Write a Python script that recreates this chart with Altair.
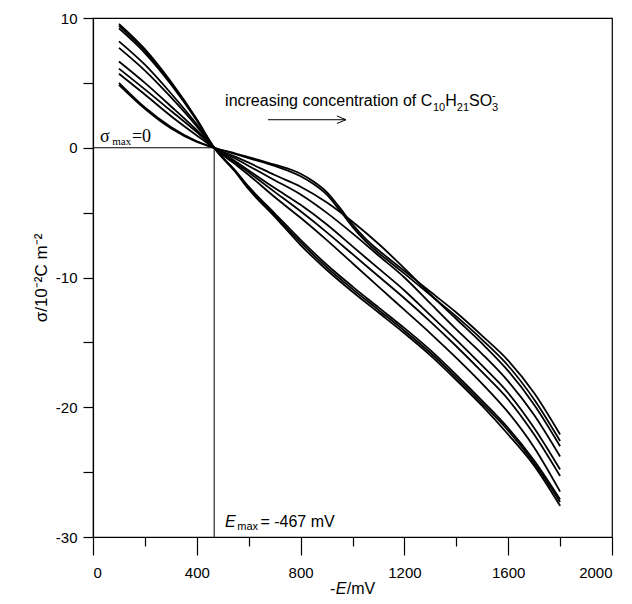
import altair as alt
import pandas as pd

E_left = [100, 200, 300, 400]
E_right = [467, 550, 600, 700, 800, 900, 1000, 1100, 1200, 1300, 1400, 1500, 1600, 1700, 1800]
E_hump = [467, 550, 600, 700, 800, 850, 900, 950, 1000, 1050, 1100, 1150, 1200, 1300, 1400, 1500, 1600, 1700, 1800]

left_vals = [
    [9.55, 7.6, 5.1, 2.2],
    [9.4, 7.45, 5.0, 2.15],
    [9.2, 7.3, 4.9, 2.1],
    [8.2, 6.4, 4.2, 1.8],
    [7.7, 5.95, 3.9, 1.65],
    [6.65, 5.0, 3.2, 1.35],
    [6.1, 4.5, 2.85, 1.2],
    [5.7, 4.1, 2.45, 0.95],
    [5.0, 3.1, 1.6, 0.5],
    [4.85, 3.0, 1.5, 0.45],
]

right_vals = [
    [0, -1.9, -3.2, -5.3, -7.5, -9.4, -11.1, -12.7, -14.3, -16.0, -17.9, -19.9, -22.1, -24.5, -27.6],
    [0, -1.85, -3.1, -5.2, -7.3, -9.2, -10.9, -12.5, -14.1, -15.8, -17.7, -19.7, -21.8, -24.3, -27.3],
    [0, -1.8, -3.0, -5.05, -7.1, -9.0, -10.7, -12.3, -13.9, -15.6, -17.5, -19.5, -21.6, -24.1, -27.1],
    [0, -1.3, -2.1, -3.8, -5.4, -7.1, -8.9, -10.7, -12.5, -14.3, -16.2, -18.2, -20.4, -23.1, -26.5],
    [0, -1.15, -1.9, -3.4, -4.9, -6.5, -8.2, -9.9, -11.6, -13.4, -15.3, -17.3, -19.4, -22.1, -25.3],
    [0, -1.05, -1.75, -3.1, -4.4, -5.9, -7.6, -9.3, -11.0, -12.9, -14.8, -16.8, -18.9, -21.6, -24.8],
    [0, -0.85, -1.4, -2.5, -3.6, -5.0, -6.6, -8.3, -10.0, -12.0, -14.0, -15.9, -18.0, -20.6, -23.8],
    [0, -0.7, -1.15, -2.1, -3.0, -4.2, -5.7, -7.4, -9.3, -11.3, -13.2, -15.1, -17.2, -19.8, -23.0],
]

hump_vals = [
    [0, -0.5, -0.8, -1.4, -2.2, -2.8, -3.6, -4.8, -6.1, -7.2, -8.1, -8.9, -9.7, -11.35, -13.0, -14.8, -16.8, -19.4, -22.6],
    [0, -0.45, -0.72, -1.3, -2.0, -2.6, -3.4, -4.6, -5.9, -7.0, -7.9, -8.7, -9.5, -11.1, -12.7, -14.5, -16.4, -18.9, -22.1],
]

rows = []
for i in range(10):
    if i < 8:
        es = E_left + E_right
        ss = left_vals[i] + right_vals[i]
    else:
        es = E_left + E_hump
        ss = left_vals[i] + hump_vals[i - 8]
    for e, s in zip(es, ss):
        rows.append({"curve": i, "E": e, "sigma": s})
df = pd.DataFrame(rows)

x_scale = alt.Scale(domain=[0, 2000], nice=False, zero=False)
y_scale = alt.Scale(domain=[-30, 10], nice=False, zero=False)

x_axis = alt.Axis(
    values=list(range(0, 2001, 200)),
    labelExpr="datum.value % 400 === 0 ? '' + datum.value : ''",
    tickSize={"condition": {"test": "datum.value % 400 === 0", "value": 18}, "value": 9},
    labelPadding=10,
    title=None,
)
y_axis = alt.Axis(
    values=list(range(-30, 11, 5)),
    labelExpr="datum.value % 10 === 0 ? '' + datum.value : ''",
    tickSize=10,
    labelPadding=6,
    title="σ/10⁻²C m⁻²",
    titleFontSize=17,
    titleFontWeight="normal",
    titlePadding=5,
)

lines = alt.Chart(df).mark_line(color="black", strokeWidth=1.8, interpolate="monotone").encode(
    x=alt.X("E:Q", scale=x_scale, axis=x_axis),
    y=alt.Y("sigma:Q", scale=y_scale, axis=y_axis),
    detail="curve:N",
    order="E:Q",
)

ref_h = pd.DataFrame({"x": [0], "x2": [467], "y": [0]})
ref_v = pd.DataFrame({"x": [467], "y": [-30], "y2": [0]})
rule_h = alt.Chart(ref_h).mark_rule(color="black", strokeWidth=1).encode(
    x=alt.X("x:Q", scale=x_scale), x2="x2:Q", y=alt.Y("y:Q", scale=y_scale))
rule_v = alt.Chart(ref_v).mark_rule(color="black", strokeWidth=1).encode(
    x=alt.X("x:Q", scale=x_scale), y=alt.Y("y:Q", scale=y_scale), y2="y2:Q")

# arrow
arrow_df = pd.DataFrame({"x": [674], "x2": [975], "y": [2.16], "y2": [2.16]})
head_df = pd.DataFrame({"x": [940, 940], "x2": [975, 975], "y": [2.45, 1.87], "y2": [2.16, 2.16]})
arrow = alt.Chart(arrow_df).mark_rule(color="black", strokeWidth=1).encode(
    x=alt.X("x:Q", scale=x_scale), x2="x2:Q", y=alt.Y("y:Q", scale=y_scale), y2="y2:Q")
head = alt.Chart(head_df).mark_rule(color="black", strokeWidth=1).encode(
    x=alt.X("x:Q", scale=x_scale), x2="x2:Q", y=alt.Y("y:Q", scale=y_scale), y2="y2:Q")

def txt(x, y, s, size, font="Liberation Sans", style="normal", align="left", baseline="alphabetic"):
    d = pd.DataFrame({"x": [x], "y": [y], "t": [s]})
    return alt.Chart(d).mark_text(
        font=font, fontSize=size, fontStyle=style, align=align, baseline=baseline, color="black"
    ).encode(x=alt.X("x:Q", scale=x_scale), y=alt.Y("y:Q", scale=y_scale), text="t:N")

texts = [
    txt(27, 0.46, "σ", 18, font="Liberation Serif"),
    txt(74, 0.23, "max", 11, font="Liberation Serif"),
    txt(150, 0.46, "=0", 18, font="Liberation Serif"),
    txt(509, -29.2, "E", 16, style="italic"),
    txt(556, -29.45, "max", 11),
    txt(645, -29.2, "= -467 mV", 16),
    txt(509, 3.18, "increasing concentration of C", 16),
    txt(1310, 2.85, "10", 11),
    txt(1357, 3.18, "H", 16),
    txt(1402, 2.85, "21", 11),
    txt(1449, 3.18, "SO", 16),
    txt(1538, 2.85, "3", 11),
    txt(1538, 3.75, "-", 11),
    # x-axis title: -E/mV
    txt(913, -34.4, "-", 16),
    txt(935, -34.4, "E", 16, style="italic"),
    txt(978, -34.4, "/mV", 16),
]

chart = alt.layer(rule_h, rule_v, lines, arrow, head, *texts).properties(
    width=519, height=519,
    autosize=alt.AutoSizeParams(type="none"),
    padding={"left": 85, "top": 10, "right": 12, "bottom": 59},
).configure_view(stroke="black", strokeWidth=1.2).configure_axis(
    domainColor="black", tickColor="black", labelColor="black", titleColor="black",
    labelFont="Liberation Sans", titleFont="Liberation Sans", labelFontSize=15, grid=False,
    domainWidth=1.2, tickWidth=1.2,
)

chart.save("out.html", embed_options={"renderer": "svg", "actions": False})
